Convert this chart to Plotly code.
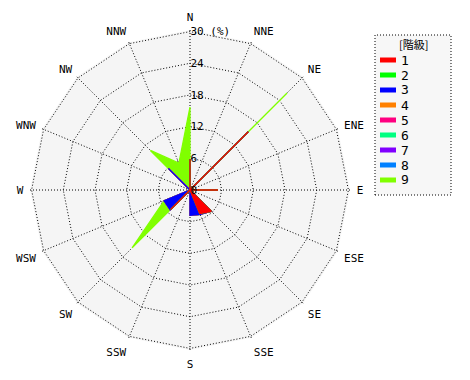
import numpy as np
import plotly.graph_objects as go

directions = ["N", "NNE", "NE", "ENE", "E", "ESE", "SE", "SSE",
              "S", "SSW", "SW", "WSW", "W", "WNW", "NW", "NNW"]
class_names = ["1", "2", "3", "4", "5", "6", "7", "8", "9"]
class_colors = ["#ff0000", "#00ff00", "#0000ff", "#ff8000", "#ff0080",
                "#00ff80", "#8000ff", "#0080ff", "#80ff00"]

# frequency (%) per wind-direction for each class
class1 = [5.8, 0, 15.6, 0, 5.3, 0, 5.7, 4.8, 0, 0, 5.2, 0, 0, 0, 0, 0]
class2 = [0] * 16
class3 = [0, 0, 0, 0, 0, 0, 0, 0.2, 4.8, 0, 0.1, 5.3, 0, 0, 5.8, 0]
class4 = [0] * 16
class5 = [0] * 16
class6 = [0] * 16
class7 = [0] * 16
class8 = [0] * 16
class9 = [9.9, 0, 10.4, 0, 0, 0, 0, 0, 0, 0, 10.2, 0, 0, 0, 4.8, 5.5]

radial_ticks = [0, 6, 12, 18, 24, 30]
radial_ticktext = ["0", "6", "12", "18", "24", "30 (%)"]
legend_title = "[階級]"

series = [class1, class2, class3, class4, class5, class6, class7, class8, class9]
cum = np.cumsum(np.array(series, dtype=float), axis=0)

W, H = 470, 380
fig = go.Figure()
for k in range(8, -1, -1):
    r = list(cum[k]) + [cum[k][0]]
    th = directions + [directions[0]]
    fig.add_trace(go.Scatterpolar(
        r=r, theta=th, mode="lines", fill="toself",
        fillcolor=class_colors[k],
        line=dict(color=class_colors[k], width=1.3),
        name=class_names[k], hoverinfo="skip", showlegend=False,
    ))
# centre dot
fig.add_trace(go.Scatterpolar(r=[0], theta=["N"], mode="markers",
                              marker=dict(color="black", size=5),
                              hoverinfo="skip", showlegend=False))

# manual legend (box, swatches, labels)
bx0, bx1, by0, by1 = 375, 451, 35, 195
fig.add_shape(type="rect", xref="paper", yref="paper",
              x0=bx0 / W, x1=bx1 / W, y0=1 - by1 / H, y1=1 - by0 / H,
              line=dict(color="black", width=1, dash="1px,2px"),
              fillcolor="#f7f7f7", layer="below")
fig.add_annotation(x=(bx0 + bx1) / 2 / W, y=1 - 44 / H, xref="paper", yref="paper",
                   text=legend_title, showarrow=False, xanchor="center", yanchor="middle",
                   font=dict(family="Noto Sans CJK JP", size=11, color="black"))
for i, (nm, col) in enumerate(zip(class_names, class_colors)):
    yy = 60 + i * 15
    fig.add_shape(type="rect", xref="paper", yref="paper",
                  x0=380 / W, x1=396 / W, y0=1 - (yy + 2.5) / H, y1=1 - (yy - 2.5) / H,
                  line=dict(width=0), fillcolor=col)
    fig.add_annotation(x=399 / W, y=1 - yy / H, xref="paper", yref="paper",
                       text=nm, showarrow=False, xanchor="left", yanchor="middle",
                       font=dict(family="DejaVu Sans Mono", size=13, color="black"))

dots = "1px,2px"
fig.update_layout(
    width=W, height=H,
    margin=dict(l=0, r=0, t=0, b=0),
    paper_bgcolor="white",
    font=dict(family="DejaVu Sans Mono, monospace", size=11, color="black"),
    showlegend=False,
    polar=dict(
        domain=dict(x=[30 / W, 350 / W], y=[1 - 350 / H, 1 - 30 / H]),
        bgcolor="#f5f5f5",
        gridshape="linear",
        angularaxis=dict(
            type="category", categoryarray=directions,
            direction="clockwise", rotation=90,
            showline=False,
            griddash=dots, gridcolor="black", gridwidth=1,
            ticks="outside", ticklen=4, tickcolor="rgba(0,0,0,0)",
            tickfont=dict(size=11),
        ),
        radialaxis=dict(
            range=[0, 30.3], angle=90, tickangle=90,
            tickvals=radial_ticks, ticktext=radial_ticktext,
            showline=False, ticks="",
            griddash=dots, gridcolor="black", gridwidth=1,
            tickfont=dict(size=11),
        ),
    ),
)

fig.write_html("out.html")
